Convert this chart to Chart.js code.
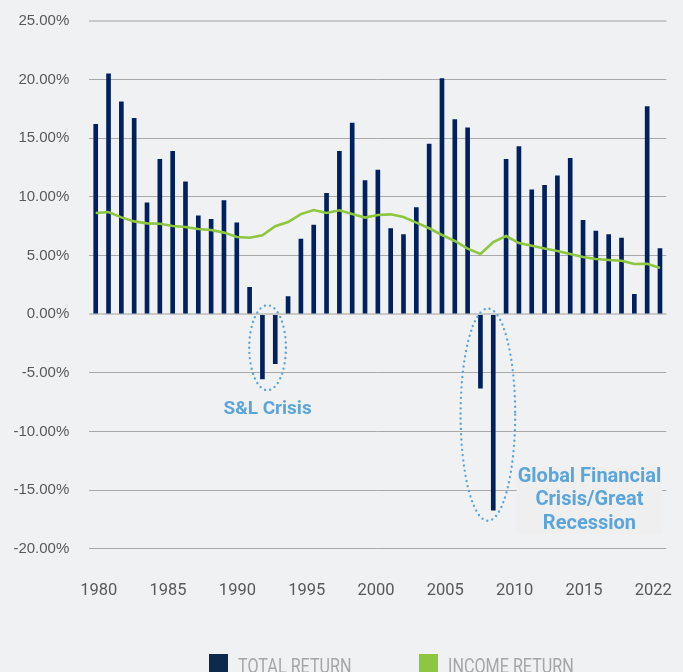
<!DOCTYPE html>
<html>
<head>
<meta charset="utf-8">
<script src="https://cdn.jsdelivr.net/npm/chart.js@4.4.0/dist/chart.umd.min.js"></script>
<style>
  html, body { margin: 0; padding: 0; background: #f0f1f3; overflow: hidden; }
  canvas { display: block; }
</style>
</head>
<body>
<canvas id="myChart" width="683" height="672"></canvas>
<script>
// annual returns, %
const years = [
  1978, 1979, 1980, 1981, 1982, 1983, 1984, 1985, 1986, 1987,
  1988, 1989, 1990, 1991, 1992, 1993, 1994, 1995, 1996, 1997,
  1998, 1999, 2000, 2001, 2002, 2003, 2004, 2005, 2006, 2007,
  2008, 2009, 2010, 2011, 2012, 2013, 2014, 2015, 2016, 2017,
  2018, 2019, 2020, 2021, 2022
];
const totalReturn = [
  16.2, 20.5, 18.1, 16.7, 9.5, 13.2, 13.9, 11.3, 8.4, 8.1,
  9.7, 7.8, 2.3, -5.5, -4.2, 1.5, 6.4, 7.6, 10.3, 13.9,
  16.3, 11.4, 12.3, 7.3, 6.8, 9.1, 14.5, 20.1, 16.6, 15.9,
  -6.3, -16.7, 13.2, 14.3, 10.6, 11.0, 11.8, 13.3, 8.0, 7.1,
  6.8, 6.5, 1.7, 17.7, 5.6
];
const incomeReturn = [
  8.63, 8.72, 8.26, 7.92, 7.75, 7.72, 7.52, 7.44, 7.27, 7.18,
  6.96, 6.59, 6.53, 6.73, 7.5, 7.86, 8.54, 8.88, 8.63, 8.86,
  8.54, 8.24, 8.46, 8.52, 8.29, 7.81, 7.33, 6.76, 6.25, 5.6,
  5.14, 6.16, 6.67, 6.07, 5.85, 5.6, 5.39, 5.14, 4.88, 4.71,
  4.63, 4.57, 4.28, 4.31, 3.94
];
const xTickLabels = ["1980", "1985", "1990", "1995", "2000", "2005", "2010", "2015", "2022"];

const NAVY = "#00215e";
const GREEN = "#8dc63f";
const NOTE = "#5ca5da";
const sans = "Roboto, 'Liberation Sans', sans-serif";

// notes drawn on top, in data units (x = category index, y = %)
const ellipses = [
  { x: 13.4, rx: 1.43, top: 0.77, bottom: -6.47 },
  { x: 30.58, rx: 2.13, top: 0.49, bottom: -17.6 }
];
const notes = [
  { x: 13.4, y: -8.1, size: 19, lines: ["S&L Crisis"], box: false },
  { x: 38.5, y: -13.85, size: 20, lines: ["Global Financial", "Crisis/Great", "Recession"], box: true }
];
const legendItems = [
  { text: "TOTAL RETURN", color: "#0b2a4d", left: 209 },
  { text: "INCOME RETURN", color: GREEN, left: 419 }
];

const bgPlugin = {
  id: "bg",
  beforeDraw(chart) {
    const c = chart.ctx;
    c.save();
    c.fillStyle = "#f0f1f3";
    c.fillRect(0, 0, chart.width, chart.height);
    c.restore();
  }
};

const notesPlugin = {
  id: "notes",
  afterDatasetsDraw(chart) {
    const c = chart.ctx;
    const { x, y } = chart.scales;
    c.save();
    c.strokeStyle = NOTE;
    c.lineWidth = 2.4;
    c.lineCap = "round";
    c.setLineDash([0.01, 5.2]);
    ellipses.forEach(e => {
      const cx = x.getPixelForValue(e.x);
      const rx = x.getPixelForValue(e.x + e.rx) - cx;
      const t = y.getPixelForValue(e.top);
      const b = y.getPixelForValue(e.bottom);
      c.beginPath();
      c.ellipse(cx, (t + b) / 2, rx, (b - t) / 2, 0, 0, Math.PI * 2);
      c.stroke();
    });
    c.setLineDash([]);
    c.textAlign = "center";
    c.textBaseline = "middle";
    const lh = 23.7;
    notes.forEach(n => {
      c.font = "bold " + n.size + "px " + sans;
      const cx = x.getPixelForValue(n.x);
      const cy = y.getPixelForValue(n.y);
      if (n.box) {
        const w = Math.max(...n.lines.map(l => c.measureText(l).width));
        c.fillStyle = "#efeff0";
        c.fillRect(cx - w / 2 - 1, cy - 10, w + 2, lh * (n.lines.length - 1) + 20);
      }
      c.fillStyle = NOTE;
      n.lines.forEach((l, i) => c.fillText(l, cx, cy + i * lh));
    });
    c.restore();
  }
};

const legendPlugin = {
  id: "bottomLegend",
  afterDraw(chart) {
    const c = chart.ctx;
    c.save();
    c.font = "21px " + sans;
    c.textBaseline = "alphabetic";
    legendItems.forEach(it => {
      c.fillStyle = it.color;
      c.fillRect(it.left, 654, 19, 19);
      c.save();
      c.translate(it.left + 29, 672.5);
      c.scale(0.77, 1);
      c.fillStyle = "#a6a6a6";
      c.fillText(it.text, 0, 0);
      c.restore();
    });
    c.restore();
  }
};

const ctx = document.getElementById("myChart");
new Chart(ctx, {
  type: "bar",
  data: {
    labels: years,
    datasets: [
      {
        type: "line",
        label: "INCOME RETURN",
        data: incomeReturn,
        borderColor: GREEN,
        borderWidth: 2.6,
        pointRadius: 0,
        tension: 0,
        order: 0
      },
      {
        type: "bar",
        label: "TOTAL RETURN",
        data: totalReturn,
        backgroundColor: NAVY,
        barThickness: 4,
        order: 1
      }
    ]
  },
  options: {
    responsive: false,
    animation: false,
    devicePixelRatio: 1,
    layout: { padding: { top: 21, right: 16.6, bottom: 68.8, left: 0 } },
    plugins: { legend: { display: false }, tooltip: { enabled: false } },
    scales: {
      x: { type: "category", display: false, offset: true },
      xl: {
        type: "linear",
        position: "bottom",
        offset: false,
        beginAtZero: false,
        min: -0.137,
        max: 8.19,
        grid: { display: true, offset: false, drawOnChartArea: false, color: "transparent", tickColor: "transparent", tickLength: 30.5 },
        border: { display: false },
        ticks: {
          stepSize: 1,
          includeBounds: false,
          autoSkip: false,
          maxRotation: 0,
          padding: 2,
          color: "#595959",
          font: { family: sans, size: 16.5 },
          callback: v => xTickLabels[v] ?? ""
        }
      },
      y: {
        min: -20,
        max: 25,
        border: { display: false },
        grid: {
          color: c => (c.tick && (c.tick.value === 0 || c.tick.value === 25)) ? "#c9c9c9" : "#a9a9a9",
          lineWidth: c => (c.tick && (c.tick.value === 0 || c.tick.value === 25)) ? 2 : 1,
          tickColor: "transparent",
          tickLength: 18
        },
        ticks: {
          stepSize: 5,
          padding: 2,
          color: "#595959",
          font: { family: "'Liberation Sans', Arial, sans-serif", size: 15 },
          callback: v => v.toFixed(2) + "%"
        },
        afterFit(scale) { scale.width = 89.3; }
      }
    }
  },
  plugins: [bgPlugin, notesPlugin, legendPlugin]
});
</script>
</body>
</html>
